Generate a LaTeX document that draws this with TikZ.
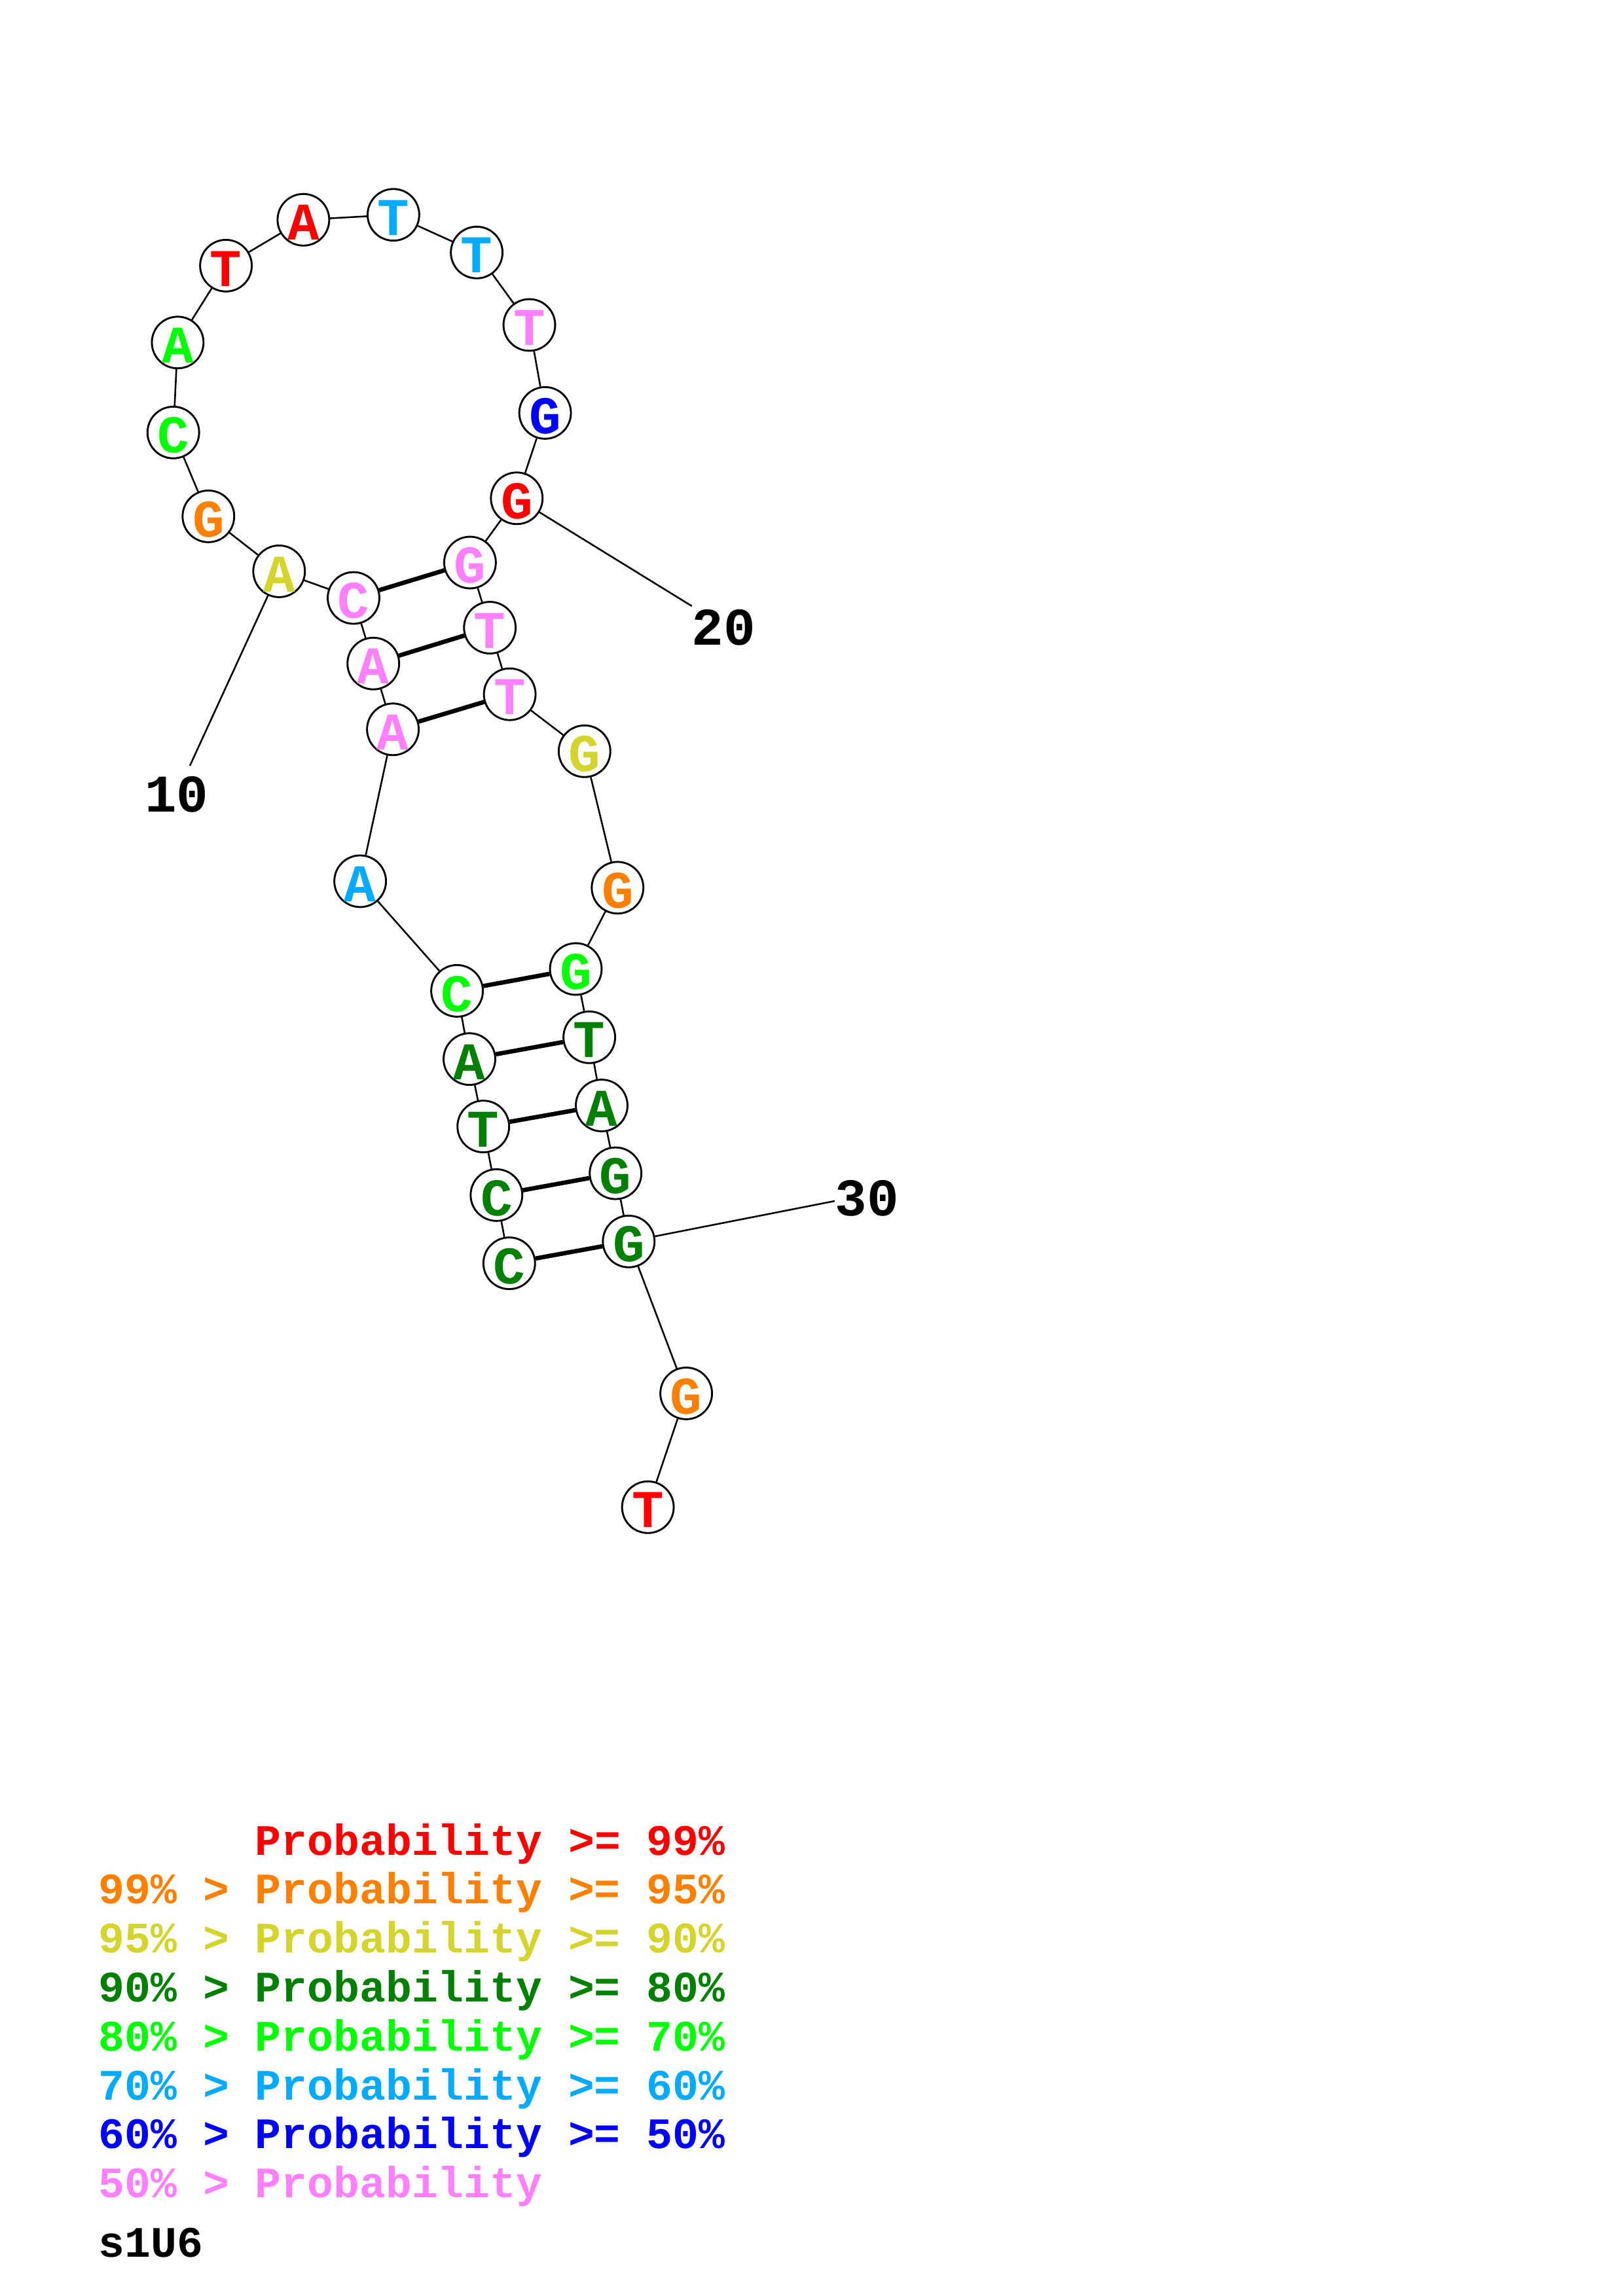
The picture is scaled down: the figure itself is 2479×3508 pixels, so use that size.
\documentclass[tikz,border=0pt]{standalone}
\usepackage{fontspec}
\setmonofont{Liberation Mono}
\usepackage{tikz}
\usetikzlibrary{shapes}

\definecolor{pred}{RGB}{255,0,0}
\definecolor{porange}{RGB}{255,128,0}
\definecolor{pyellow}{RGB}{212,212,44}
\definecolor{pdkgreen}{RGB}{0,128,0}
\definecolor{pgreen}{RGB}{0,255,0}
\definecolor{pltblue}{RGB}{0,170,255}
\definecolor{pblue}{RGB}{0,0,255}
\definecolor{ppink}{RGB}{255,128,255}

\newcommand{\nucfont}{\ttfamily\bfseries\fontsize{19.5pt}{23pt}\selectfont}
\newcommand{\keyfont}{\ttfamily\bfseries\fontsize{16pt}{19pt}\selectfont}

\begin{document}
\begin{tikzpicture}[
  x=0.08467mm, y=-0.08467mm,
  base/.style={
    circle, draw=black, line width=0.7pt,
    fill=white, inner sep=0pt,
    minimum size=6.67mm,
    text height=15pt, text depth=0pt,
    font=\nucfont
  },
  backbone/.style={line width=0.62pt},
  pair/.style={line width=1.6pt},
  numlabel/.style={font=\nucfont, inner sep=0pt},
  key/.style={anchor=base west, inner sep=0pt, font=\keyfont}
]
\useasboundingbox (0,0) rectangle (2479,3508);

% Bases, 5' stem side
\node[base, text=pdkgreen] (b1) at (777.8,1930.1) {C};
\node[base, text=pdkgreen] (b2) at (758.3,1825.9) {C};
\node[base, text=pdkgreen] (b3) at (738.2,1721.1) {T};
\node[base, text=pdkgreen] (b4) at (717.0,1618.1) {A};
\node[base, text=pgreen] (b5) at (698.1,1513.9) {C};
\node[base, text=pltblue] (b6) at (550.1,1346.4) {A};
\node[base, text=ppink] (b7) at (600.1,1114.3) {A};
\node[base, text=ppink] (b8) at (570.2,1013.8) {A};
\node[base, text=ppink] (b9) at (540.0,913.6) {C};

% Hairpin loop
\node[base, text=pyellow] (b10) at (426.3,872.9) {A};
\node[base, text=porange] (b11) at (318.3,788.9) {G};
\node[base, text=pgreen] (b12) at (264.7,660.8) {C};
\node[base, text=pgreen] (b13) at (271.4,523.3) {A};
\node[base, text=pred] (b14) at (345.1,405.9) {T};
\node[base, text=pred] (b15) at (463.4,335.8) {A};
\node[base, text=pltblue] (b16) at (600.9,328.2) {T};
\node[base, text=pltblue] (b17) at (728.1,385.8) {T};
\node[base, text=ppink] (b18) at (808.5,496.5) {T};
\node[base, text=pblue] (b19) at (832.6,630.9) {G};
\node[base, text=pred] (b20) at (789.3,761.3) {G};

% Bases, 3' stem side
\node[base, text=ppink] (b21) at (717.9,859.5) {G};
\node[base, text=ppink] (b22) at (748.2,959.0) {T};
\node[base, text=ppink] (b23) at (778.6,1060.7) {T};
\node[base, text=pyellow] (b24) at (892.8,1147.8) {G};
\node[base, text=porange] (b25) at (943.3,1356.3) {G};
\node[base, text=pgreen] (b26) at (879.5,1480.5) {G};
\node[base, text=pdkgreen] (b27) at (900.1,1584.8) {T};
\node[base, text=pdkgreen] (b28) at (919.0,1689.0) {A};
\node[base, text=pdkgreen] (b29) at (940.2,1792.6) {G};
\node[base, text=pdkgreen] (b30) at (960.3,1896.8) {G};
\node[base, text=porange] (b31) at (1048.1,2128.9) {G};
\node[base, text=pred] (b32) at (989.6,2302.8) {T};

% Position labels
\node[numlabel] (n10) at (270,1214) {10};
\node[numlabel] (n20) at (1105,959) {20};
\node[numlabel] (n30) at (1324,1830.6) {30};
\coordinate (t10) at (290,1170);
\coordinate (t20) at (1056.7,926);
\coordinate (t30) at (1274.9,1835);

% Backbone
\draw[backbone] (b1) -- (b2) -- (b3) -- (b4) -- (b5) -- (b6) -- (b7) -- (b8)
  -- (b9) -- (b10) -- (b11) -- (b12) -- (b13) -- (b14) -- (b15) -- (b16);
\draw[backbone] (b16) -- (b17) -- (b18) -- (b19) -- (b20) -- (b21) -- (b22)
  -- (b23) -- (b24) -- (b25) -- (b26) -- (b27) -- (b28) -- (b29) -- (b30)
  -- (b31) -- (b32);
\draw[backbone] (b10) -- (t10);
\draw[backbone] (b20) -- (t20);
\draw[backbone] (b30) -- (t30);

% Base pairs
\draw[pair] (b1) -- (b30);
\draw[pair] (b2) -- (b29);
\draw[pair] (b3) -- (b28);
\draw[pair] (b4) -- (b27);
\draw[pair] (b5) -- (b26);
\draw[pair] (b7) -- (b23);
\draw[pair] (b8) -- (b22);
\draw[pair] (b9) -- (b21);

% Legend
\node[key, text=pred] (k1) at (150,2834) {\hphantom{99\% >} Probability >= 99\%};
\node[key, text=porange] (k2) at (150,2908.8) {99\% > Probability >= 95\%};
\node[key, text=pyellow] (k3) at (150,2983.6) {95\% > Probability >= 90\%};
\node[key, text=pdkgreen] (k4) at (150,3058.4) {90\% > Probability >= 80\%};
\node[key, text=pgreen] (k5) at (150,3133.2) {80\% > Probability >= 70\%};
\node[key, text=pltblue] (k6) at (150,3208) {70\% > Probability >= 60\%};
\node[key, text=pblue] (k7) at (150,3282.8) {60\% > Probability >= 50\%};
\node[key, text=ppink] (k8) at (150,3357.6) {50\% > Probability};
\node[key, text=black] (title) at (150,3448) {s1U6};

\end{tikzpicture}
\end{document}
